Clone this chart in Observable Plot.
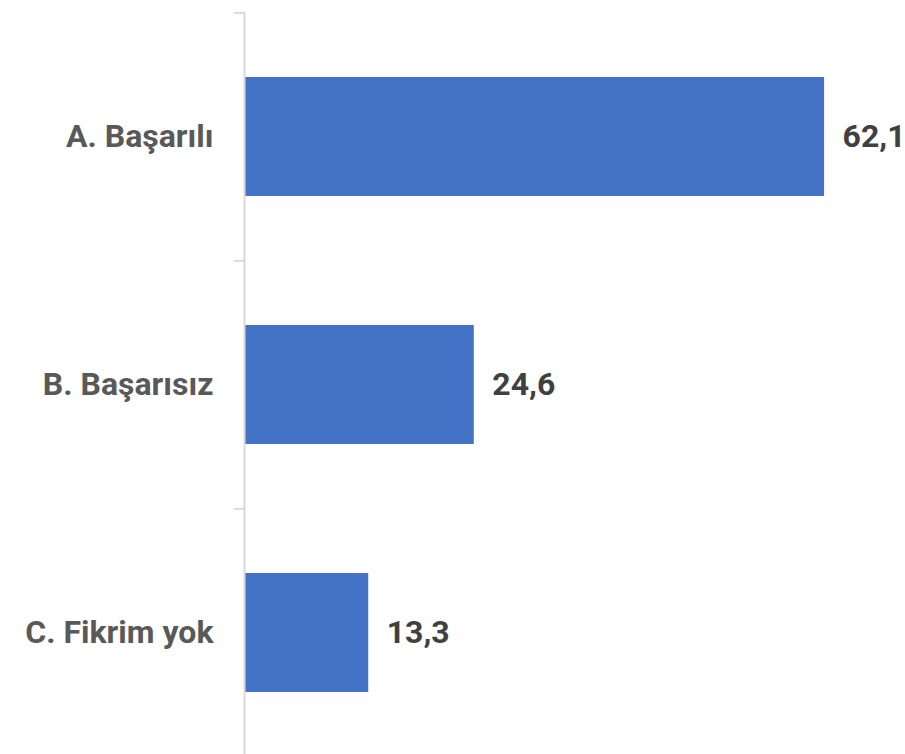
<!DOCTYPE html>
<html>
<head>
<meta charset="utf-8">
<script src="https://cdn.jsdelivr.net/npm/d3@7"></script>
<script src="https://cdn.jsdelivr.net/npm/@observablehq/plot@0.6"></script>
<style>
  html, body { margin: 0; padding: 0; background: #fff; }
</style>
</head>
<body>
<div id="chart"></div>
<script>
const categories = ["A. Başarılı", "B. Başarısız", "C. Fikrim yok"];
const values = [62.1, 24.6, 13.3];
const valueLabels = ["62,1", "24,6", "13,3"];

const data = categories.map((c, i) => ({category: c, value: values[i], label: valueLabels[i]}));

const W = 905, H = 754;
const yTop = 12, yBottom = 757;
const step = (yBottom - yTop) / categories.length;
const font = "'Roboto', 'Noto Sans', sans-serif";

const chart = Plot.plot({
  width: W,
  height: H,
  marginTop: 12,
  marginBottom: 0,
  marginLeft: 244,
  marginRight: 9,
  style: {fontFamily: font, background: "#fff"},
  x: {domain: [0, 69.8], axis: null},
  y: {domain: categories, range: [yTop, yBottom], paddingInner: 0.52, paddingOuter: 0.26, axis: null},
  marks: [
    Plot.barX(data, {y: "category", x: "value", fill: "#4472C4", insetLeft: 1}),
    Plot.ruleX([0], {stroke: "#d9d9d9", strokeWidth: 2}),
    Plot.ruleY(data, {y: "category", x1: -1.1, x2: 0, dy: -step / 2, stroke: "#d9d9d9", strokeWidth: 2}),
    Plot.text(data, {
      y: "category", x: "value", text: "label",
      textAnchor: "start", dx: 18, fill: "#404040",
      fontSize: 32, fontWeight: "bold"
    }),
    Plot.text(data, {
      y: "category", x: 0, text: "category",
      textAnchor: "end", dx: -31, fill: "#595959",
      fontSize: 32, fontWeight: "bold"
    })
  ]
});

document.getElementById("chart").appendChild(chart);
</script>
</body>
</html>
